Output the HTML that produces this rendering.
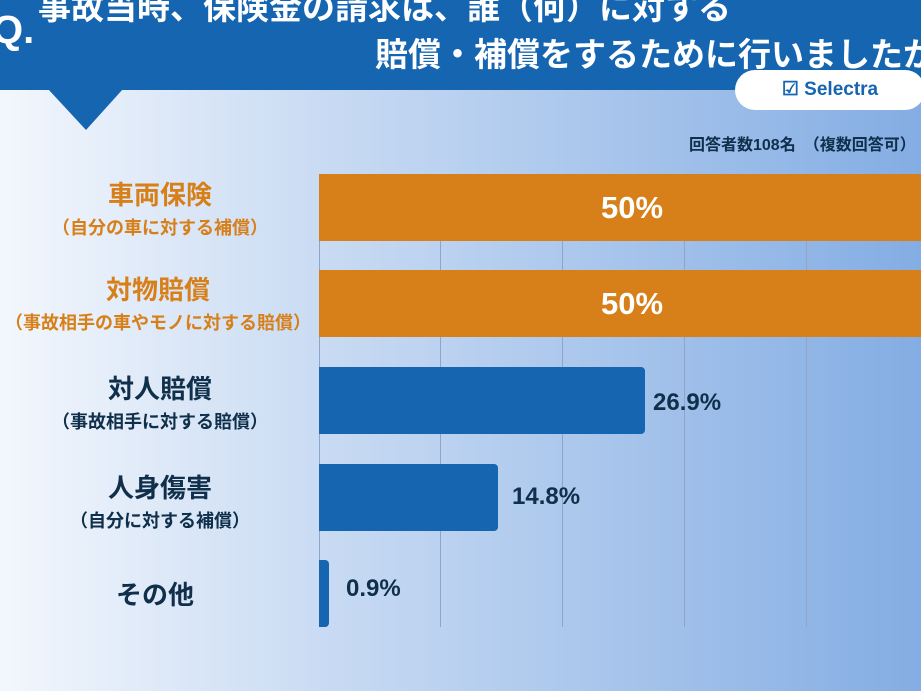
<!DOCTYPE html>
<html><head><meta charset="utf-8"><style>
body{margin:0;width:921px;height:691px;overflow:hidden;position:relative;font-family:"Liberation Sans","Noto Sans CJK JP",sans-serif;font-weight:bold;
background:linear-gradient(90deg,#f3f7fd 0%,#c9dbf3 35%,#a9c6ec 65%,#84ade3 100%);}
.hdr{position:absolute;left:0;top:0;width:921px;height:90px;background:#1565b0;}
.t{position:absolute;color:#fff;font-size:33px;white-space:nowrap}
.grid{position:absolute;top:174px;height:453px;width:1px;background:#8ea6c6}
.bar{position:absolute;left:319px;height:67px}
.or{background:#d77f18;width:610px}
.bl{background:#1565b0;border-radius:0 4px 4px 0}
.lab{position:absolute;text-align:center;width:320px;left:0;font-size:26px;color:#0f2f4a}
.lab small{display:block;font-size:18px;margin-top:2px}
.val{position:absolute;font-size:24px;color:#0f2f4a}
</style></head><body>
<div class="hdr"></div>
<div class="t" style="left:-8px;top:8px;font-size:40px">Q.</div>
<div class="t" style="left:38px;top:-19px">事故当時、保険金の請求は、誰（何）に対する</div>
<div class="t" style="left:375px;top:28px">賠償・補償をするために行いましたか</div>
<svg style="position:absolute;left:0;top:89px" width="140" height="45"><polygon points="48,0 123,0 86,41" fill="#1565b0"/></svg>
<div style="position:absolute;left:735px;top:70px;width:190px;height:40px;background:#fff;border-radius:20px;color:#1565b0;font-size:19px;line-height:40px;text-align:center">☑ Selectra</div>
<div style="position:absolute;left:689px;top:131px;font-size:16px;color:#0f2f4a;white-space:nowrap">回答者数108名　（複数回答可）</div>
<div class="grid" style="left:319px"></div>
<div class="grid" style="left:440px"></div>
<div class="grid" style="left:562px"></div>
<div class="grid" style="left:684px"></div>
<div class="grid" style="left:806px"></div>
<div class="bar or" style="top:174px;color:#fff;font-size:31px;line-height:67px;text-align:center;padding-left:8px">50%</div>
<div class="bar or" style="top:270px;color:#fff;font-size:31px;line-height:67px;text-align:center;padding-left:8px">50%</div>
<div class="bar bl" style="top:367px;width:326px"></div>
<div class="bar bl" style="top:464px;width:179px"></div>
<div class="bar bl" style="top:560px;width:10px"></div>
<div class="val" style="left:653px;top:389px">26.9%</div>
<div class="val" style="left:512px;top:483px">14.8%</div>
<div class="val" style="left:346px;top:575px">0.9%</div>
<div class="lab" style="top:175px;color:#d77f18">車両保険<small>（自分の車に対する補償）</small></div>
<div class="lab" style="top:270px;color:#d77f18;width:316px">対物賠償<small style="font-size:18px;margin-left:-10px;margin-right:-10px">（事故相手の車やモノに対する賠償）</small></div>
<div class="lab" style="top:369px">対人賠償<small>（事故相手に対する賠償）</small></div>
<div class="lab" style="top:468px">人身傷害<small>（自分に対する補償）</small></div>
<div class="lab" style="top:575px;width:310px">その他</div>
</body></html>
